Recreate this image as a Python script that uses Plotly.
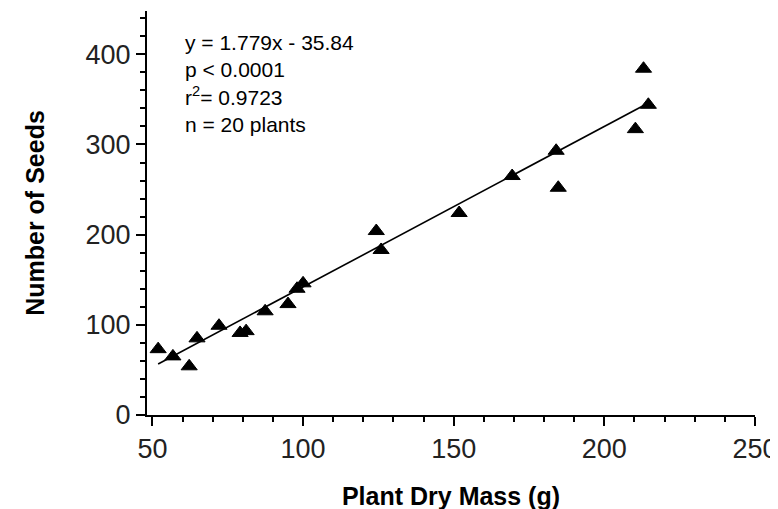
import plotly.graph_objects as go

# Data
plant_dry_mass = [51.9, 56.8, 62.2, 64.8, 72.1, 79.1, 81.1, 87.4, 95.0, 98.0,
                  100.0, 124.3, 125.9, 151.8, 169.4, 184.0, 184.7, 210.3, 213.0, 214.6]
number_of_seeds = [73, 65, 54, 85, 99, 91, 93, 115, 123, 140,
                   146, 204, 183, 224, 265, 293, 252, 317, 384, 344]

fit_slope = 1.779
fit_intercept = -35.84
stats_lines = ["y = 1.779x - 35.84", "p < 0.0001", "r<sup>2</sup>= 0.9723", "n = 20 plants"]

x_fit = [min(plant_dry_mass), max(plant_dry_mass)]
y_fit = [fit_slope * v + fit_intercept for v in x_fit]

FONT = "Liberation Sans, Arial, sans-serif"

fig = go.Figure()
fig.add_trace(go.Scatter(x=x_fit, y=y_fit, mode="lines",
                         line=dict(color="black", width=1.6), hoverinfo="skip",
                         showlegend=False))
fig.add_trace(go.Scatter(x=plant_dry_mass, y=number_of_seeds, mode="markers",
                         marker=dict(symbol="triangle-up", size=14, color="black",
                                     line=dict(color="black", width=1)),
                         showlegend=False))

fig.add_annotation(x=60.0, y=428, xref="x", yref="y", xanchor="left", yanchor="top",
                   text="<br>".join(stats_lines), showarrow=False, align="left",
                   font=dict(family=FONT, size=21, color="black"))

axis_common = dict(showline=True, linecolor="black", linewidth=2, showgrid=False,
                   zeroline=False, ticks="outside", ticklen=9, tickwidth=1.5,
                   tickcolor="black",
                   tickfont=dict(family=FONT, size=27, color="#222"))

fig.update_xaxes(range=[48.2, 250], tick0=50, dtick=50,
                 minor=dict(ticks="outside", ticklen=5, dtick=10, tickcolor="black", tickwidth=1.5),
                 title=dict(text="<b>Plant Dry Mass (g)</b>", standoff=24,
                            font=dict(family=FONT, size=25, color="black")),
                 **axis_common)
fig.update_yaxes(range=[0, 448], tick0=0, dtick=100,
                 minor=dict(ticks="outside", ticklen=5, dtick=20, tickcolor="black", tickwidth=1.5),
                 title=dict(text="<b>Number of Seeds</b>", standoff=34,
                            font=dict(family=FONT, size=25, color="black")),
                 **axis_common)

# The page body adds an 8px offset; margins compensate so the plot area sits where the reference has it.
fig.update_layout(width=778, height=509, plot_bgcolor="white", paper_bgcolor="white",
                  margin=dict(l=139, r=31, t=3, b=102, autoexpand=False),
                  showlegend=False)

fig.write_html("out.html")
